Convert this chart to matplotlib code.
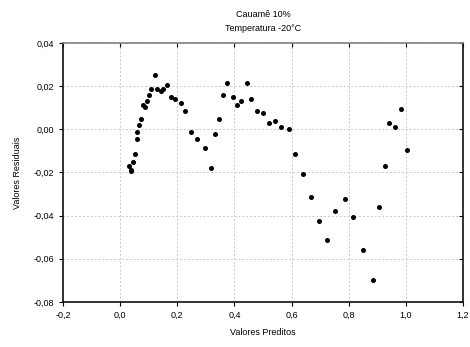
import numpy as np
import matplotlib
matplotlib.use("Agg")
import matplotlib.pyplot as plt
from matplotlib.ticker import FuncFormatter

plt.rcParams['font.family'] = ['Liberation Sans', 'DejaVu Sans']

# predicted values and residuals
preditos = [0.031, 0.038, 0.037, 0.045, 0.052, 0.058, 0.059, 0.065, 0.073, 0.080,
            0.086, 0.094, 0.101, 0.107, 0.122, 0.130, 0.143, 0.149, 0.163, 0.177,
            0.192, 0.212, 0.226, 0.248, 0.269, 0.297, 0.317, 0.331, 0.345, 0.359,
            0.373, 0.394, 0.409, 0.423, 0.444, 0.458, 0.479, 0.500, 0.521, 0.542,
            0.563, 0.592, 0.613, 0.641, 0.667, 0.696, 0.724, 0.753, 0.787, 0.816,
            0.851, 0.885, 0.907, 0.927, 0.942, 0.963, 0.984, 1.005]
residuais = [-0.0168, -0.0195, -0.0187, -0.0150, -0.0115, -0.0043, -0.0014, 0.0022, 0.0049, 0.0114,
             0.0104, 0.0132, 0.0160, 0.0186, 0.0250, 0.0186, 0.0177, 0.0186, 0.0204, 0.0150,
             0.0140, 0.0121, 0.0086, -0.0014, -0.0043, -0.0087, -0.0178, -0.0023, 0.0049, 0.0160,
             0.0213, 0.0150, 0.0114, 0.0132, 0.0213, 0.0140, 0.0086, 0.0077, 0.0031, 0.0040,
             0.0012, 0.0003, -0.0115, -0.0205, -0.0315, -0.0424, -0.0515, -0.0379, -0.0323, -0.0406,
             -0.0561, -0.0697, -0.0360, -0.0170, 0.0031, 0.0012, 0.0095, -0.0097]

xticks = [-0.2, 0.0, 0.2, 0.4, 0.6, 0.8, 1.0, 1.2]
yticks = [-0.08, -0.06, -0.04, -0.02, 0.00, 0.02, 0.04]

fig = plt.figure(figsize=(4.7, 3.47), dpi=100)
ax = fig.add_axes([0.134, 0.130, 0.851, 0.746])

ax.scatter(preditos, residuais, s=13, color='black', zorder=3, linewidths=0)

ax.set_xlim(-0.2, 1.2)
ax.set_ylim(-0.08, 0.04)
ax.set_xticks(xticks)
ax.set_yticks(yticks)
ax.xaxis.set_major_formatter(FuncFormatter(lambda v, p: f"{v:.1f}".replace('.', ',')))
ax.yaxis.set_major_formatter(FuncFormatter(lambda v, p: f"{v:.2f}".replace('.', ',').replace('-0,00', '0,00')))
ax.grid(True, linestyle=(0, (2, 2)), color='#c8c8c8', linewidth=0.7)
ax.set_axisbelow(True)
# outward ticks on left/bottom, inward on top/right
ax.tick_params(direction='out', length=3, width=0.8, labelsize=6.5, colors='black')
ax.tick_params(which='both', top=True, right=True)
for t in ax.xaxis.get_major_ticks():
    t.tick2line.set_marker(3)  # tick pointing down from top
for t in ax.yaxis.get_major_ticks():
    t.tick2line.set_marker(0)  # tick pointing left from right
for sp in ax.spines.values():
    sp.set_linewidth(1.2)
    sp.set_color('#111111')
ax.spines['top'].set_color('#808080')

ax.set_xlabel('Valores Preditos', fontsize=6.5, labelpad=6)
ax.set_ylabel('Valores Residuais', fontsize=6.5, labelpad=8)
ax.set_title('Cauamê 10%\nTemperatura -20°C', fontsize=6.5, pad=9, linespacing=1.6)

fig.savefig('out.png', dpi=100)
